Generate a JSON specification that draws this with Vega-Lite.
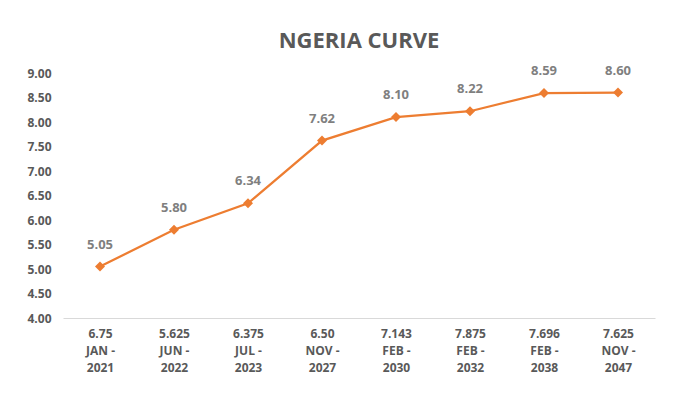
{
  "$schema": "https://vega.github.io/schema/vega-lite/v6.json",
  "width": 695,
  "height": 409,
  "autosize": {"type": "fit", "contains": "padding"},
  "padding": {"left": 26, "right": 40, "top": 32, "bottom": 36},
  "title": {
    "text": "NGERIA CURVE",
    "font": "Open Sans",
    "fontSize": 22,
    "fontWeight": "bold",
    "color": "#595959",
    "offset": 12
  },
  "data": {
    "values": [
      {"bond": "6.75|JAN -|2021", "yield": 5.05},
      {"bond": "5.625|JUN -|2022", "yield": 5.80},
      {"bond": "6.375|JUL -|2023", "yield": 6.34},
      {"bond": "6.50|NOV -|2027", "yield": 7.62},
      {"bond": "7.143|FEB -|2030", "yield": 8.10},
      {"bond": "7.875|FEB -|2032", "yield": 8.22},
      {"bond": "7.696|FEB -|2038", "yield": 8.59},
      {"bond": "7.625|NOV -|2047", "yield": 8.60}
    ]
  },
  "encoding": {
    "x": {
      "field": "bond",
      "type": "ordinal",
      "sort": null,
      "title": null,
      "axis": {
        "labelAngle": 0,
        "labelExpr": "split(datum.label, '|')",
        "labelFont": "Open Sans",
        "labelFontSize": 12,
        "labelFontWeight": "bold",
        "labelColor": "#595959",
        "labelLineHeight": 17,
        "labelPadding": 10,
        "domainColor": "#d9d9d9",
        "ticks": false
      }
    },
    "y": {
      "field": "yield",
      "type": "quantitative",
      "title": null,
      "scale": {"domain": [4, 9]},
      "axis": {
        "values": [4, 4.5, 5, 5.5, 6, 6.5, 7, 7.5, 8, 8.5, 9],
        "format": ".2f",
        "grid": false,
        "domain": false,
        "ticks": false,
        "labelFont": "Open Sans",
        "labelFontSize": 12,
        "labelFontWeight": "bold",
        "labelColor": "#595959",
        "labelPadding": 12
      }
    }
  },
  "layer": [
    {
      "mark": {"type": "line", "color": "#ED7D31", "strokeWidth": 2.25},
      "encoding": {}
    },
    {
      "mark": {"type": "point", "shape": "diamond", "filled": true, "color": "#ED7D31", "size": 100, "opacity": 1}
    },
    {
      "mark": {"type": "text", "dy": -22, "font": "Open Sans", "fontSize": 13, "fontWeight": "bold", "color": "#7f7f7f"},
      "encoding": {"text": {"field": "yield", "type": "quantitative", "format": ".2f"}}
    }
  ],
  "config": {"view": {"stroke": null}, "background": "white"}
}
